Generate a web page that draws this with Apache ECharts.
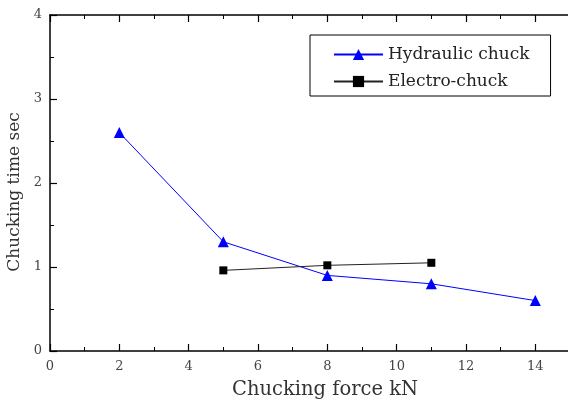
<!DOCTYPE html>
<html><head><meta charset="utf-8">
<script src="https://cdn.jsdelivr.net/npm/echarts@6/dist/echarts.min.js"></script>
<style>html,body{margin:0;padding:0;background:#fff}#c{width:568px;height:403px}</style>
</head><body><div id="c"></div>
<script>
const hydraulicX = [2, 5, 8, 11, 14];
const hydraulicY = [2.6, 1.3, 0.9, 0.8, 0.6];
const electroX = [5, 8, 11];
const electroY = [0.96, 1.02, 1.05];
const seriesNames = ['Hydraulic chuck', 'Electro-chuck'];
const xTitle = 'Chucking force kN';
const yTitle = 'Chucking time sec';

const font = '"DejaVu Serif", "Liberation Serif", serif';
const chart = echarts.init(document.getElementById('c'), null, {renderer: 'canvas'});
const axisCommon = {
  axisLine: {show: true, onZero: false, lineStyle: {color: '#000', width: 1.5}},
  axisTick: {show: true, inside: true, length: 7, lineStyle: {color: '#000', width: 1.2}},
  minorTick: {show: true, splitNumber: 2, length: 4, lineStyle: {color: '#000', width: 1}},
  splitLine: {show: false}
};
chart.setOption({
  animation: false,
  backgroundColor: '#fff',
  grid: {left: 50, right: -2, top: 15, bottom: 52, containLabel: false, outerBoundsMode: 'none'},
  legend: {
    data: seriesNames,
    orient: 'vertical',
    left: 310, top: 35,
    padding: [11, 21, 6, 23],
    itemGap: 10,
    itemWidth: 49, itemHeight: 14,
    borderColor: '#000', borderWidth: 1,
    textStyle: {fontFamily: font, fontSize: 17, color: '#222'}
  },
  xAxis: [{
    type: 'value', min: 0, max: 15, interval: 2,
    ...axisCommon,
    axisLabel: {fontFamily: font, fontSize: 13, color: '#444', margin: 9,
      formatter: v => v > 14 ? '' : v},
    name: xTitle, nameLocation: 'middle', nameGap: 29,
    nameTextStyle: {fontFamily: font, fontSize: 19.5, color: '#333', padding: [0, 0, 0, 30]}
  }, {
    type: 'value', min: 0, max: 15, interval: 2, position: 'top',
    ...axisCommon,
    axisLabel: {show: false}
  }],
  yAxis: [{
    type: 'value', min: 0, max: 4, interval: 1,
    ...axisCommon,
    axisLabel: {fontFamily: font, fontSize: 13, color: '#444', margin: 8},
    name: yTitle, nameLocation: 'middle', nameGap: 26,
    nameTextStyle: {fontFamily: font, fontSize: 17, color: '#333', padding: [0, 18, 0, 0]}
  }],
  series: [{
    name: seriesNames[0], type: 'line',
    data: hydraulicX.map((x, i) => [x, hydraulicY[i]]),
    symbol: 'triangle', symbolSize: 11,
    lineStyle: {color: '#0000ff', width: 1},
    itemStyle: {color: '#0000ff'}
  }, {
    name: seriesNames[1], type: 'line',
    data: electroX.map((x, i) => [x, electroY[i]]),
    symbol: 'rect', symbolSize: 8,
    lineStyle: {color: '#222', width: 1},
    itemStyle: {color: '#000'}
  }]
});
</script></body></html>
